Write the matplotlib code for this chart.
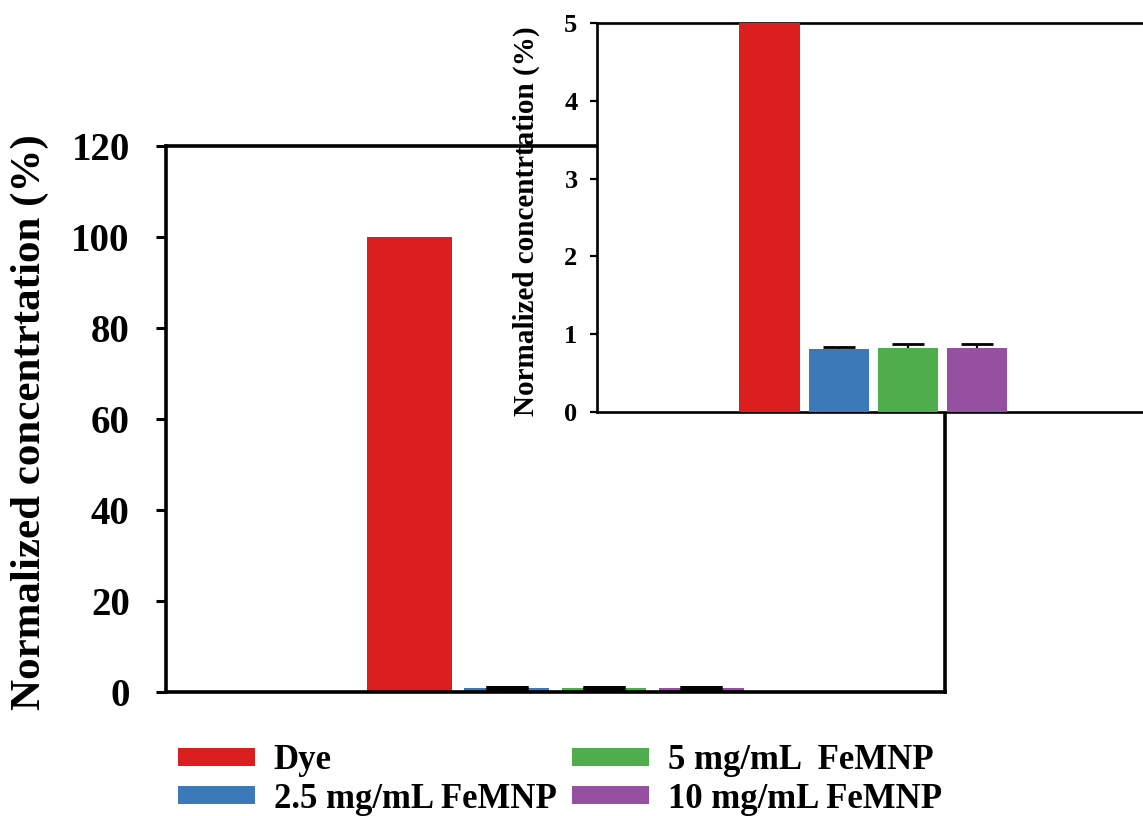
import matplotlib
matplotlib.use("Agg")
import matplotlib.pyplot as plt
import numpy as np

plt.rcParams["font.family"] = "Liberation Serif"
plt.rcParams["font.weight"] = "bold"

labels = ["Dye", "2.5 mg/mL FeMNP", "5 mg/mL  FeMNP", "10 mg/mL FeMNP"]
values = [100.0, 0.81, 0.83, 0.83]
errors = [0.0, 0.03, 0.05, 0.04]
colors = ["#DC1F1E", "#3B79B8", "#4FAE4B", "#9650A2"]

main_ticks = [0, 20, 40, 60, 80, 100, 120]
inset_ticks = [0, 1, 2, 3, 4, 5]
ylabel = "Normalized concentrtation (%)"

x = np.arange(len(values))
bar_w = 0.87

fig = plt.figure(figsize=(11.43, 8.16), dpi=100)

# --- main plot ---
ax = fig.add_axes([0.1452, 0.152, 0.6815, 0.669])
bars = ax.bar(x, values, width=bar_w, color=colors, zorder=2)
ax.errorbar(x[1:], values[1:], yerr=errors[1:], fmt="none", ecolor="black",
            elinewidth=2, capsize=15, capthick=3.5, zorder=3)
ax.set_xlim(-2.5, 5.5)
ax.set_ylim(0, 120)
ax.set_yticks(main_ticks)
ax.set_xticks([])
for s in ax.spines.values():
    s.set_linewidth(2.6)
ax.tick_params(axis="y", direction="out", length=7, width=2.2, pad=19, labelsize=28)
for t in ax.get_yticklabels():
    t.set_fontweight("bold")
ax.set_ylabel(ylabel, fontsize=31, fontweight="bold")
ax.yaxis.set_label_coords(-0.15, 0.495)

# --- inset (zoom of the low values) ---
ins = fig.add_axes([0.5223, 0.495, 0.483, 0.4767])
ins.set_facecolor("white")
ins.bar(x, values, width=bar_w, color=colors, zorder=3)
ins.errorbar(x[1:], values[1:], yerr=errors[1:], fmt="none", ecolor="black",
             elinewidth=1.6, capsize=11.5, capthick=2, zorder=2)
ins.set_xlim(-2.5, 5.5)
ins.set_ylim(0, 5)
ins.set_yticks(inset_ticks)
ins.set_xticks([])
ins.spines["right"].set_visible(False)
for s in ins.spines.values():
    s.set_linewidth(1.9)
ins.tick_params(axis="y", direction="out", length=5, width=1.6, pad=9, labelsize=19)
for t in ins.get_yticklabels():
    t.set_fontweight("bold")
ins.set_ylabel(ylabel, fontsize=21, fontweight="bold")
ins.yaxis.set_label_coords(-0.103, 0.49)

# --- legend ---
fig.legend(bars, labels, loc="center", bbox_to_anchor=(560 / 1143, 1 - 780 / 816),
           ncol=2, frameon=False, prop={"size": 25, "weight": "bold"},
           handlelength=2.2, handleheight=0.42, handletextpad=0.55,
           columnspacing=0.45, labelspacing=0.15, borderpad=0)

fig.savefig("out.png", dpi=100)
